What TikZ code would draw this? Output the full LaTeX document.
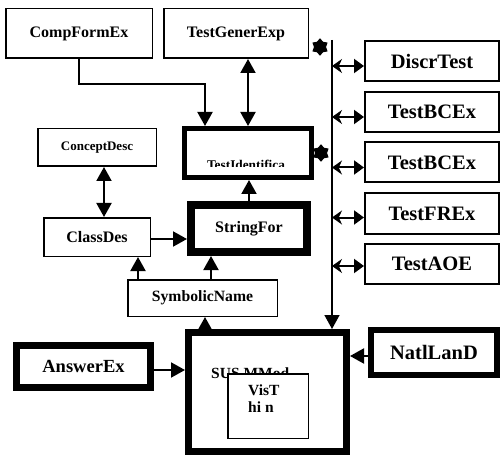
\documentclass[tikz,border=0pt]{standalone}
\usepackage{fontspec}
\setmainfont{Liberation Serif}
\usetikzlibrary{arrows.meta,shapes.geometric}

\begin{document}
\begin{tikzpicture}[x=1pt,y=-1pt,line join=miter,
        box/.style={draw,rectangle,inner sep=0pt,font=\bfseries},
        thinbox/.style={box,line width=1.5pt},
        sidebox/.style={box,line width=2pt,minimum width=134pt,minimum height=40pt,font=\bfseries\fontsize{20.5}{22}\selectfont},
        arr/.style={line width=2pt,-{Triangle[length=14pt,width=15pt]}},
        dblarr/.style={line width=2pt,{Triangle[length=14pt,width=15pt]}-{Triangle[length=14pt,width=15pt]}},
        busarr/.style={line width=2pt,{Stealth[length=10pt,width=14pt]}-{Triangle[length=10pt,width=14pt]}},
        mark6/.style={star,star points=6,star point ratio=1.45,fill=black,draw=black,line width=1pt,inner sep=0pt,minimum size=16pt}]
    \useasboundingbox (0,0) rectangle (503,457);

    % top row
    \node[thinbox,minimum width=146.5pt,minimum height=49.5pt,font=\bfseries\fontsize{16}{18}\selectfont] (compform) at (79,33.5) {CompFormEx};
    \node[thinbox,minimum width=144.5pt,minimum height=49.5pt,font=\bfseries\fontsize{16}{18}\selectfont] (testgener) at (236,33.5) {TestGenerExp};

    % boxes on the right
    \node[sidebox] (discr) at (432,61) {DiscrTest};
    \node[sidebox] (bcexA) at (432,112) {TestBCEx};
    \node[sidebox] (bcexB) at (432,162.5) {TestBCEx};
    \node[sidebox] (frex) at (432,213.5) {TestFREx};
    \node[sidebox] (aoe) at (432,264) {TestAOE};

    % left column
    \node[thinbox,minimum width=118.5pt,minimum height=37.5pt,font=\bfseries\fontsize{13}{15}\selectfont] (concept) at (97,147.5) {ConceptDesc};
    \node[thinbox,minimum width=106.5pt,minimum height=38.5pt,font=\bfseries\fontsize{16}{18}\selectfont] (classdes) at (97,237) {ClassDes};

    % middle column
    \node[box,line width=5pt,minimum width=127pt,minimum height=49pt] (testident) at (248,153) {};
    \begin{scope}
        \clip (186,131) rectangle (310,167);
        \node[font=\bfseries\fontsize{13.3}{15}\selectfont,anchor=base,inner sep=0pt] (identtext) at (246,170) {TestIdentifica};
    \end{scope}
    \node[box,line width=8pt,minimum width=116pt,minimum height=47pt,font=\bfseries\fontsize{16}{18}\selectfont] (stringfor) at (249,228.5) {StringFor};
    \node[thinbox,minimum width=149.5pt,minimum height=36.5pt,font=\bfseries\fontsize{15.7}{18}\selectfont] (symbolic) at (202.5,298) {SymbolicName};

    % bottom row
    \node[box,line width=7pt,minimum width=158pt,minimum height=119pt] (sus) at (267.5,392) {};
    \node[font=\bfseries\fontsize{15.5}{18}\selectfont,anchor=base west,inner sep=0pt] (sustext) at (211,378) {SUS MMod};
    \node[thinbox,fill=white,minimum width=80.5pt,minimum height=64.5pt] (vis) at (268,406) {};
    \node[font=\bfseries\fontsize{15.5}{17}\selectfont,align=left,anchor=north west,inner sep=0pt] (vistext) at (248,385) {VisT\\hi n};
    \node[box,line width=7pt,minimum width=134pt,minimum height=42pt,font=\bfseries\fontsize{18.5}{20}\selectfont] (answer) at (83.5,366.5) {AnswerEx};
    \node[box,line width=6pt,minimum width=126pt,minimum height=45pt,font=\bfseries\fontsize{20.5}{22}\selectfont] (natllan) at (434,352.5) {NatlLanD};

    % bus
    \coordinate (bustop) at (332,40);
    \node[mark6] (markA) at (320,47) {};
    \node[mark6] (markB) at (321,153) {};

    % connectors
    \draw[arr] (compform.south) -- ++(0,25) -| ([xshift=-43pt]testident.north);
    \draw[dblarr] (testgener.south -| testident.north) -- (testident.north);
    \draw[arr] (stringfor.north) -- (stringfor.north |- testident.south);
    \draw[dblarr] ([xshift=7pt]concept.south) -- ([xshift=7pt]classdes.north);
    \draw[arr] ([yshift=-2pt]classdes.east) -- ([yshift=-2pt]classdes.east -| stringfor.west);
    \draw[arr] ([xshift=11pt]symbolic.north west) -- ([xshift=11pt]symbolic.north west |- classdes.south);
    \draw[arr] ([xshift=84pt]symbolic.north west) -- ([xshift=84pt]symbolic.north west |- stringfor.south);
    \draw[arr] ([xshift=20pt]sus.north west) -- ([xshift=20pt]sus.north west |- symbolic.south);
    \draw[line width=1.5pt,-{Triangle[length=14pt,width=15pt]}] (bustop) -- (bustop |- sus.north);
    \draw[busarr] ([yshift=-5pt]discr.west -| bustop) -- ([yshift=-5pt]discr.west);
    \draw[busarr] ([yshift=-5pt]bcexA.west -| bustop) -- ([yshift=-5pt]bcexA.west);
    \draw[busarr] ([yshift=-5pt]bcexB.west -| bustop) -- ([yshift=-5pt]bcexB.west);
    \draw[busarr] ([yshift=-4pt]frex.west -| bustop) -- ([yshift=-4pt]frex.west);
    \draw[busarr] ([yshift=-2pt]aoe.west -| bustop) -- ([yshift=-2pt]aoe.west);
    \draw[arr] ([yshift=-3.5pt]answer.east) -- ([yshift=-3.5pt]answer.east -| sus.west);
    \draw[arr] ([yshift=-3.5pt]natllan.west) -- ([yshift=-3.5pt]natllan.west -| sus.east);
\end{tikzpicture}
\end{document}
